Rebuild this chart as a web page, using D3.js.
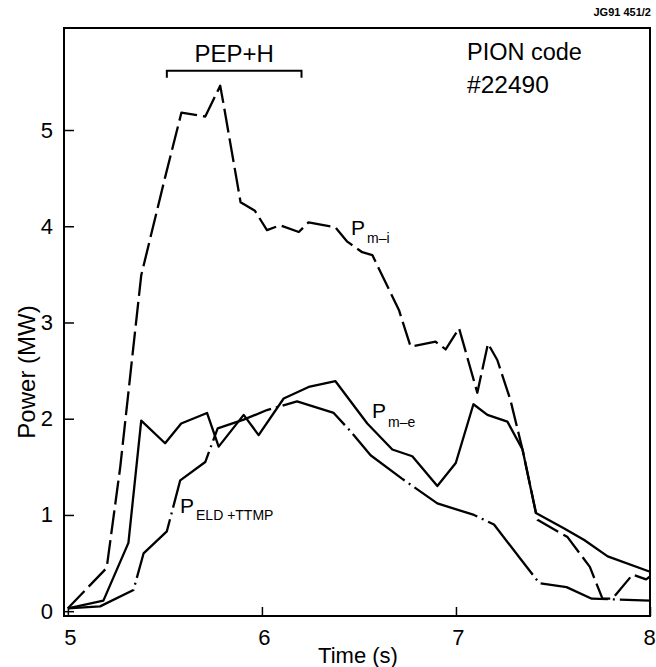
<!DOCTYPE html>
<html><head><meta charset="utf-8">
<script src="https://cdn.jsdelivr.net/npm/d3@7"></script>
<style>body{margin:0;background:#fff}svg{display:block}text{font-family:"Liberation Sans",Arial,sans-serif;fill:#000}</style>
</head><body>
<script>
const xTicks=[5,6,7,8];
const yTicks=[0,1,2,3,4,5];
const pmiX=[5.0,5.2,5.27,5.335,5.378,5.50,5.585,5.708,5.785,5.803,5.89,5.964,6.026,6.093,6.19,6.24,6.378,6.44,6.517,6.569,6.706,6.766,6.895,6.947,7.016,7.11,7.165,7.213,7.28,7.343,7.42,7.575,7.69,7.755,7.807,7.91,7.98,8.0];
const pmiY=[0.03,0.45,1.5,2.7,3.49,4.50,5.18,5.14,5.46,5.26,4.25,4.16,3.96,4.01,3.94,4.04,3.99,3.84,3.73,3.70,3.13,2.75,2.80,2.72,2.94,2.27,2.78,2.61,2.20,1.68,0.95,0.77,0.46,0.13,0.13,0.38,0.33,0.36];
const pmeX=[5.0,5.183,5.312,5.378,5.501,5.584,5.717,5.777,5.906,5.983,6.112,6.241,6.379,6.543,6.672,6.775,6.904,6.999,7.09,7.162,7.265,7.343,7.412,7.558,7.661,7.782,8.0];
const pmeY=[0.03,0.11,0.71,1.98,1.745,1.95,2.06,1.71,2.04,1.83,2.21,2.33,2.39,1.95,1.68,1.61,1.30,1.54,2.15,2.04,1.97,1.68,1.02,0.86,0.74,0.57,0.41];
const eldX=[5.0,5.166,5.338,5.39,5.51,5.579,5.708,5.772,5.906,6.026,6.181,6.37,6.456,6.56,6.72,6.904,7.093,7.196,7.33,7.43,7.57,7.70,8.0];
const eldY=[0.03,0.05,0.22,0.60,0.83,1.36,1.55,1.90,1.99,2.09,2.18,2.06,1.87,1.62,1.38,1.12,1.00,0.90,0.55,0.29,0.25,0.13,0.11];
const bracket=[5.51,6.204];

const W=656,H=667;
const L=64,R=650,T=28,B=616;
const svg=d3.select("body").append("svg").attr("width",W).attr("height",H);
const x=d3.scaleLinear().domain([4.98,8.0]).range([L,R]);
const y=d3.scaleLinear().domain([-0.05,6.06]).range([B,T]);

svg.append("rect").attr("x",L).attr("y",T).attr("width",R-L).attr("height",B-T)
  .attr("fill","none").attr("stroke","#000").attr("stroke-width",2);

const xa=svg.append("g").attr("transform",`translate(0,${B})`)
  .call(d3.axisBottom(x).tickValues(xTicks).tickSizeInner(-9).tickSizeOuter(0).tickPadding(13).tickFormat(d3.format("d")));
xa.select(".domain").remove();
xa.selectAll("line").attr("stroke","#000").attr("stroke-width",1.5);
xa.selectAll("text").attr("font-size",22).attr("dx",d=>d===8?-1:2);
const ya=svg.append("g").attr("transform",`translate(${L},0)`)
  .call(d3.axisLeft(y).tickValues(yTicks).tickSizeInner(-10).tickSizeOuter(0).tickPadding(11).tickFormat(d3.format("d")));
ya.select(".domain").remove();
ya.selectAll("line").attr("stroke","#000").attr("stroke-width",1.5);
ya.selectAll("text").attr("font-size",22);

const line=d3.line().x(d=>x(d[0])).y(d=>y(d[1]));
function draw(xs,ys,dash){
  svg.append("path").datum(xs.map((v,i)=>[v,ys[i]])).attr("d",line)
   .attr("fill","none").attr("stroke","#000").attr("stroke-width",2.3)
   .attr("stroke-linejoin","round").attr("stroke-dasharray",dash);
}
draw(pmiX,pmiY,"24,6");
draw(pmeX,pmeY,null);
draw(eldX,eldY,"70,5,2,5");

const by=y(5.615);
svg.append("path").attr("d",`M${x(bracket[0])},${by+7}V${by}H${x(bracket[1])}V${by+7}`)
  .attr("fill","none").attr("stroke","#000").attr("stroke-width",2);
svg.append("text").attr("x",(x(bracket[0])+x(bracket[1]))/2).attr("y",by-9)
  .attr("text-anchor","middle").attr("font-size",24).text("PEP+H");

svg.append("text").attr("x",467).attr("y",60).attr("font-size",23.5).text("PION code");
svg.append("text").attr("x",467).attr("y",93).attr("font-size",24.5).text("#22490");
svg.append("text").attr("x",651).attr("y",16).attr("text-anchor","end").attr("font-size",11).attr("font-weight","bold").text("JG91 451/2");

function lab(px,py,main,sub,subSize,dy){
  const t=svg.append("text").attr("x",px).attr("y",py).attr("font-size",21);
  t.append("tspan").text(main);
  t.append("tspan").attr("font-size",subSize).attr("dy",dy).attr("dx",2).text(sub);
}
lab(351,235,"P","m–i",14,8);
lab(372,418,"P","m–e",14,9);
lab(180,513,"P","ELD +TTMP",14,7);

svg.append("text").attr("x",358).attr("y",663).attr("text-anchor","middle").attr("font-size",22).text("Time (s)");
svg.append("text").attr("transform",`translate(35,372) rotate(-90)`).attr("text-anchor","middle").attr("font-size",24).text("Power (MW)");
</script>
</body></html>
